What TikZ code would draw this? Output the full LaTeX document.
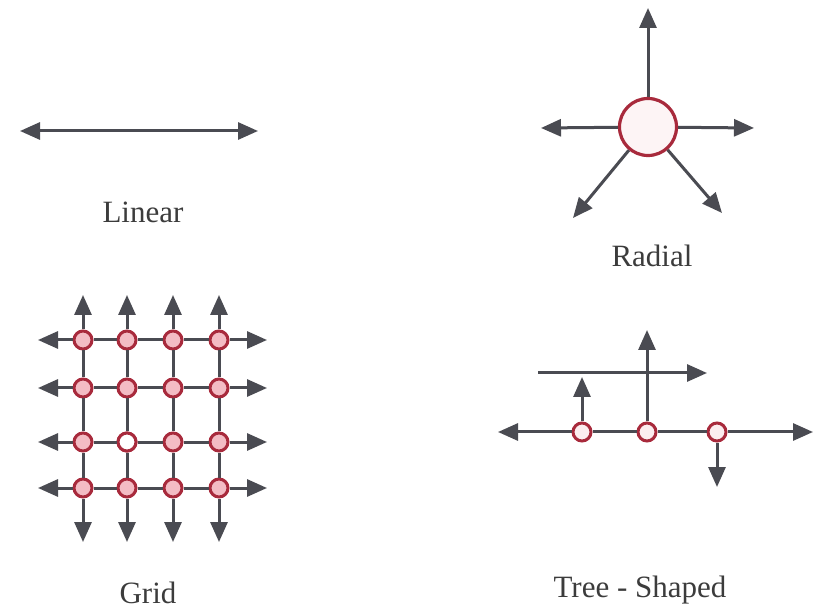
\documentclass[tikz,border=0pt]{standalone}
\usepackage{fontspec}
\setmainfont{Liberation Serif}
\usetikzlibrary{arrows.meta}
\definecolor{ln}{HTML}{4A4B52}
\definecolor{rim}{HTML}{A82A3C}
\definecolor{pinkf}{HTML}{F3BCC4}
\definecolor{palef}{HTML}{FBEDEF}
\definecolor{txt}{HTML}{3C3C3C}
\begin{document}
\begin{tikzpicture}[x=1pt,y=-1pt,
  con/.style={draw=ln, line width=3pt},
  tip/.style={-{Triangle[length=20pt,width=17pt]}},
  both/.style={{Triangle[length=20pt,width=17pt]}-{Triangle[length=20pt,width=17pt]}},
  dot/.style={circle, draw=rim, line width=3pt, fill=pinkf, minimum size=18pt, inner sep=0pt},
  hub/.style={circle, draw=rim, line width=3.2pt, fill=palef!60!white, minimum size=57pt, inner sep=0pt},
  lbl/.style={font=\fontsize{31}{33}\selectfont, text=txt}]
\useasboundingbox (0,0) rectangle (814,609);
\fill[white] (0,0) rectangle (814,609);

% Linear
\coordinate (la) at (20,131);
\coordinate (lb) at (258,131);
\draw[con,both] (la) -- (lb);
\node[lbl] (tlin) at (143,212) {Linear};

% Radial
\node[hub] (hub) at (648,127) {};
\coordinate (r1) at (648,8);
\coordinate (r2) at (541,128);
\coordinate (r3) at (754,128);
\coordinate (r4) at (573,218);
\coordinate (r5) at (722,213);
\foreach \r in {r1,r2,r3,r4,r5} \draw[con,tip] (hub) -- (\r);
\node[lbl] (trad) at (652,256) {Radial};

% Grid
\foreach \y [count=\i] in {340,388,442,488} {
  \foreach \x [count=\j] in {83,127,173,219} {
    \node[dot] (g-\i-\j) at (\x,\y) {};
  }
}
\node[dot, fill=white] at (g-3-2) {};
\foreach \y [count=\i] in {340,388,442,488} {
  \coordinate (gl-\i) at (38,\y);
  \coordinate (gr-\i) at (267,\y);
  \draw[con,tip] (g-\i-1) -- (gl-\i);
  \draw[con,tip] (g-\i-4) -- (gr-\i);
  \draw[con] (g-\i-1) -- (g-\i-2);
  \draw[con] (g-\i-2) -- (g-\i-3);
  \draw[con] (g-\i-3) -- (g-\i-4);
}
\foreach \x [count=\j] in {83,127,173,219} {
  \coordinate (gu-\j) at (\x,295);
  \coordinate (gd-\j) at (\x,542);
  \draw[con,tip] (g-1-\j) -- (gu-\j);
  \draw[con,tip] (g-4-\j) -- (gd-\j);
  \draw[con] (g-1-\j) -- (g-2-\j);
  \draw[con] (g-2-\j) -- (g-3-\j);
  \draw[con] (g-3-\j) -- (g-4-\j);
}
\node[lbl] (tgrid) at (148,593) {Grid};

% Tree
\node[dot, fill=palef] (t1) at (582,432) {};
\node[dot, fill=palef] (t2) at (647,432) {};
\node[dot, fill=palef] (t3) at (717,432) {};
\coordinate (tl) at (498,432);
\coordinate (tr) at (813,432);
\draw[con,tip] (t1) -- (tl);
\draw[con] (t1) -- (t2);
\draw[con] (t2) -- (t3);
\draw[con,tip] (t3) -- (tr);
\coordinate (u1) at (538,373);
\coordinate (u2) at (707,373);
\draw[con,tip] (u1) -- (u2);
\coordinate (ta) at (582,377);
\coordinate (tb) at (647,330);
\coordinate (tc) at (717,487);
\draw[con,tip] (t1) -- (ta);
\draw[con,tip] (t2) -- (tb);
\draw[con,tip] (t3) -- (tc);
\node[lbl] (ttree) at (640,590) {Tree - Shaped};
\end{tikzpicture}
\end{document}
